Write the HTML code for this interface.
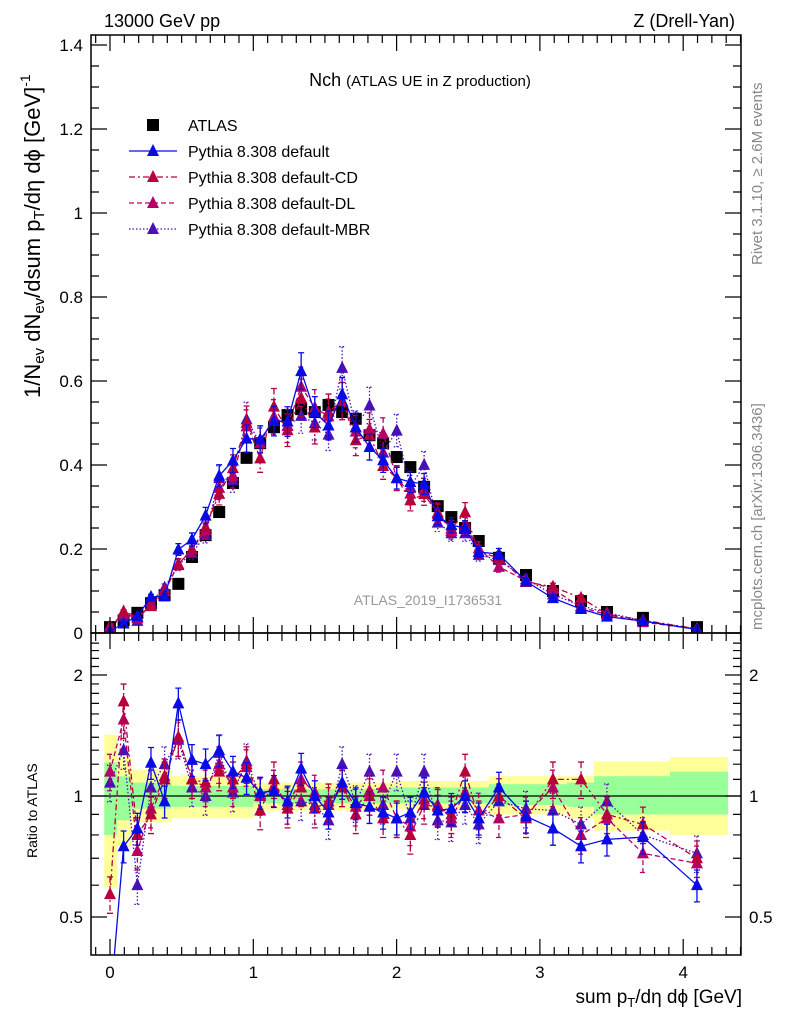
<!DOCTYPE html>
<html><head><meta charset="utf-8"><style>
html,body{margin:0;padding:0;background:#fff;}
svg{display:block;font-family:"Liberation Sans",sans-serif;}
</style></head><body>
<svg id="chart" width="786" height="1024" viewBox="0 0 786 1024" xmlns="http://www.w3.org/2000/svg">
<g id="bands"></g>
<g id="marks"></g>
<g id="axes"></g>
<text x="104" y="27" font-size="18">13000 GeV pp</text>
<text x="735" y="27" font-size="18" text-anchor="end">Z (Drell-Yan)</text>
<text x="420" y="86" font-size="18" text-anchor="middle">Nch <tspan font-size="15">(ATLAS UE in Z production)</tspan></text>
<text x="428" y="605" font-size="14" fill="#999" text-anchor="middle">ATLAS_2019_I1736531</text>
<text transform="translate(762,265) rotate(-90)" font-size="15" fill="#888">Rivet 3.1.10, ≥ 2.6M events</text>
<text transform="translate(762,630) rotate(-90)" font-size="15" fill="#888">mcplots.cern.ch [arXiv:1306.3436]</text>
<text transform="translate(40,398) rotate(-90)" font-size="22" text-anchor="start">1/N<tspan font-size="15" dy="4">ev</tspan><tspan dy="-4"> dN</tspan><tspan font-size="15" dy="4">ev</tspan><tspan dy="-4">/dsum p</tspan><tspan font-size="15" dy="4">T</tspan><tspan dy="-4">/dη dϕ  [GeV]</tspan><tspan font-size="14" dy="-10">-1</tspan></text>
<text transform="translate(37,858) rotate(-90)" font-size="14">Ratio to ATLAS</text>
<text x="742" y="1003" font-size="19" text-anchor="end">sum p<tspan font-size="13" dy="4">T</tspan><tspan dy="-4">/dη dϕ [GeV]</tspan></text>
<g id="legend"></g>
</svg>
<script>
const xs=[0,0.095,0.191,0.286,0.381,0.477,0.572,0.667,0.762,0.858,0.953,1.048,1.144,1.239,1.334,1.429,1.525,1.620,1.715,1.811,1.906,2.001,2.096,2.192,2.287,2.382,2.478,2.573,2.714,2.903,3.091,3.287,3.468,3.719,4.096];
const atlas=[0.014,0.03,0.048,0.071,0.09,0.117,0.181,0.233,0.288,0.357,0.417,0.452,0.49,0.519,0.533,0.526,0.543,0.526,0.51,0.471,0.452,0.419,0.395,0.348,0.302,0.276,0.25,0.219,0.179,0.138,0.1,0.076,0.05,0.036,0.014];
const rDefault=[0.3,0.75,0.83,1.21,0.97,1.70,1.23,1.2,1.3,1.15,1.11,1.02,1.03,0.97,1.17,1.0,0.91,1.08,0.96,0.94,0.91,0.88,0.91,1.02,0.92,0.93,1.0,0.88,1.05,0.89,0.83,0.75,0.78,0.79,0.6];
const rCD=[0.57,1.72,0.8,0.9,1.1,1.4,1.1,1.08,1.15,1.1,1.2,0.92,1.1,0.93,1.05,0.93,0.97,1.05,0.9,1.0,0.88,0.88,0.8,0.95,0.94,0.9,1.15,0.88,1.0,0.88,1.1,1.1,0.9,0.85,0.7];
const rDL=[1.15,1.55,0.73,0.93,1.12,1.4,1.1,1.05,1.2,1.05,1.18,1.0,1.05,0.95,1.1,1.02,0.95,1.05,0.94,1.03,1.05,0.88,0.84,0.98,0.95,0.88,1.02,0.92,0.88,0.9,1.05,0.8,0.88,0.72,0.68];
const rMBR=[1.08,1.3,0.6,1.05,1.2,1.38,1.05,1.0,1.28,1.02,1.22,1.0,1.05,0.95,0.97,0.95,0.87,1.2,0.96,1.15,0.95,1.15,0.88,1.15,0.87,0.86,0.95,0.85,0.97,0.93,0.92,0.85,0.97,0.8,0.72];
const yLo=[0.59,0.75,0.86,0.86,0.86,0.88,0.88,0.88,0.88,0.88,0.88,0.92,0.92,0.92,0.92,0.92,0.92,0.92,0.92,0.92,0.92,0.93,0.93,0.93,0.93,0.93,0.93,0.93,0.9,0.9,0.9,0.88,0.82,0.82,0.8];
const yHi=[1.42,1.25,1.16,1.16,1.16,1.12,1.12,1.12,1.12,1.12,1.12,1.08,1.08,1.08,1.08,1.08,1.08,1.08,1.08,1.08,1.08,1.09,1.09,1.09,1.09,1.09,1.09,1.09,1.12,1.12,1.12,1.12,1.22,1.22,1.25];
const gLo=[0.8,0.87,0.93,0.93,0.93,0.94,0.94,0.94,0.94,0.94,0.94,0.96,0.96,0.96,0.96,0.96,0.96,0.96,0.96,0.96,0.96,0.96,0.96,0.96,0.96,0.96,0.96,0.96,0.95,0.95,0.95,0.94,0.9,0.9,0.9];
const gHi=[1.21,1.12,1.08,1.08,1.08,1.06,1.06,1.06,1.06,1.06,1.06,1.04,1.04,1.04,1.04,1.04,1.04,1.04,1.04,1.04,1.04,1.05,1.05,1.05,1.05,1.05,1.05,1.05,1.07,1.07,1.07,1.08,1.12,1.12,1.15];
const xTicks=["0","1","2","3","4"];
const yTicks=["0","0.2","0.4","0.6","0.8","1","1.2","1.4"];
const rTicks=["0.5","1","2"];

const NS="http://www.w3.org/2000/svg";
const L=91,R=741,T=35,MB=633,RB=955;
const X=v=>110+143.3*v;
const Y=v=>633-420*v;
const RY=r=>796-402*Math.log10(r);
function mk(tag,attrs,parent){const e=document.createElementNS(NS,tag);for(const k in attrs)e.setAttribute(k,attrs[k]);parent.appendChild(e);return e;}
const bands=document.getElementById('bands'),marks=document.getElementById('marks'),axes=document.getElementById('axes'),legend=document.getElementById('legend');
const defs=mk('defs',{},document.getElementById('chart'));
const c1=mk('clipPath',{id:'cm'},defs);mk('rect',{x:L,y:T,width:R-L,height:MB-T},c1);
const c2=mk('clipPath',{id:'cr'},defs);mk('rect',{x:L,y:MB,width:R-L,height:RB-MB},c2);
const edges=[-0.04];for(let i=0;i<xs.length-1;i++)edges.push((xs[i]+xs[i+1])/2);edges.push(4.31);
for(let i=0;i<xs.length;i++){
  const x0=X(edges[i]),x1=X(edges[i+1]);
  const yb=mk('rect',{x:x0,y:RY(yHi[i]),width:x1-x0+0.5,height:RY(yLo[i])-RY(yHi[i]),fill:'#ffff99'},bands);
  
  
  const gb=mk('rect',{x:x0,y:RY(gHi[i]),width:x1-x0+0.5,height:RY(gLo[i])-RY(gHi[i]),fill:'#99ff99'},bands);
  
  
}
const unity=mk('line',{x1:L,x2:R,y1:RY(1),y2:RY(1),stroke:'#000','stroke-width':1.3},bands);



const series=[
 {name:'default',r:rDefault,col:'#0a0ae6',dash:'',err:0.07},
 {name:'cd',r:rCD,col:'#b8003c',dash:'6,3,2,3',err:0.08},
 {name:'dl',r:rDL,col:'#b5006a',dash:'5,3',err:0.08},
 {name:'mbr',r:rMBR,col:'#4a10b8',dash:'1.5,2',err:0.08}
];
function tri(cx,cy,col,parent){return mk('path',{d:`M${cx-6},${cy+5}L${cx+6},${cy+5}L${cx},${cy-7}Z`,fill:col},parent);}
series.slice().reverse().forEach(s=>{
  const gm=mk('g',{'clip-path':'url(#cm)'},marks);
  
  
  const gr=mk('g',{'clip-path':'url(#cr)'},marks);
  
  
  let pm='',pr='';
  xs.forEach((x,i)=>{const v=atlas[i]*s.r[i];pm+=(i?'L':'M')+X(x)+','+Y(v);pr+=(i?'L':'M')+X(x)+','+RY(s.r[i]);});
  mk('path',{d:pm,fill:'none',stroke:s.col,'stroke-width':1.3,'stroke-dasharray':s.dash},gm);
  mk('path',{d:pr,fill:'none',stroke:s.col,'stroke-width':1.3,'stroke-dasharray':s.dash},gr);
  xs.forEach((x,i)=>{
    const v=atlas[i]*s.r[i],cx=X(x);
    const e=v*s.err;
    mk('path',{d:`M${cx},${Y(v+e)}L${cx},${Y(v-e)}M${cx-3},${Y(v+e)}L${cx+3},${Y(v+e)}M${cx-3},${Y(v-e)}L${cx+3},${Y(v-e)}`,stroke:s.col,'stroke-width':1.3,'stroke-dasharray':s.dash},gm);
    const t=tri(cx,Y(v),s.col,gm);
    
    
    const rv=s.r[i],re=rv*s.err*1.3;
    mk('path',{d:`M${cx},${RY(rv+re)}L${cx},${RY(Math.max(rv-re,0.05))}M${cx-3},${RY(rv+re)}L${cx+3},${RY(rv+re)}M${cx-3},${RY(Math.max(rv-re,0.05))}L${cx+3},${RY(Math.max(rv-re,0.05))}`,stroke:s.col,'stroke-width':1.3,'stroke-dasharray':s.dash},gr);
    const t2=tri(cx,RY(rv),s.col,gr);
    
    
  });
});
const gd=mk('g',{'clip-path':'url(#cm)'},marks);
marks.insertBefore(gd,marks.firstChild);


xs.forEach((x,i)=>{
  const r=mk('rect',{x:X(x)-6,y:Y(atlas[i])-6,width:12,height:12,fill:'#000'},gd);
  
  
});
const f1=mk('rect',{x:L,y:T,width:R-L,height:MB-T,fill:'none',stroke:'#000','stroke-width':1.5},axes);


const f2=mk('rect',{x:L,y:MB,width:R-L,height:RB-MB,fill:'none',stroke:'#000','stroke-width':1.5},axes);


let d='';
for(let k=-1;k<=45;k++){const v=k/10;const px=X(v);if(px<L||px>R)continue;const big=k%10===0;const len=big?16:8;
  d+=`M${px},${MB}L${px},${MB-len}M${px},${T}L${px},${T+len}M${px},${RB}L${px},${RB-len}M${px},${MB}L${px},${MB+len}`;}
for(let k=0;k<=28;k++){const v=k*0.05;const py=Y(v);const big=k%4===0;const len=big?16:8;d+=`M${L},${py}L${L+len},${py}M${R},${py}L${R-len},${py}`;}
const rt=[0.4,0.5,0.6,0.7,0.8,0.9,1,1.1,1.2,1.3,1.4,1.5,1.6,1.7,1.8,1.9,2,2.1,2.2,2.3,2.4];
rt.forEach(r=>{const py=RY(r);if(py<MB||py>RB)return;const big=(r===0.5||r===1||r===2);const len=big?16:8;d+=`M${L},${py}L${L+len},${py}M${R},${py}L${R-len},${py}`;});
mk('path',{d:d,stroke:'#000','stroke-width':1.2,fill:'none'},axes);
xTicks.forEach(t=>{const e=mk('text',{x:X(parseFloat(t)),y:978,'font-size':17,'text-anchor':'middle'},axes);e.textContent=t;
  
  });
yTicks.forEach(t=>{const e=mk('text',{x:83,y:Y(parseFloat(t))+6,'font-size':17,'text-anchor':'end'},axes);e.textContent=t;
  
  });
rTicks.forEach(t=>{const py=RY(parseFloat(t))+6;
  const e=mk('text',{x:83,y:py,'font-size':17,'text-anchor':'end'},axes);e.textContent=t;
  
  
  const e2=mk('text',{x:749,y:py,'font-size':17,'text-anchor':'start'},axes);e2.textContent=t;
  
  });
const leg=[['ATLAS',null,'#000',''],['Pythia 8.308 default','tri','#0a0ae6',''],['Pythia 8.308 default-CD','tri','#b8003c','6,3,2,3'],['Pythia 8.308 default-DL','tri','#b5006a','5,3'],['Pythia 8.308 default-MBR','tri','#4a10b8','1.5,2']];
leg.forEach((l,i)=>{const cy=125+i*26;const g=mk('g',{},legend);
  
  
  if(!l[1]){mk('rect',{x:147,y:cy-6,width:12,height:12,fill:'#000'},g);}
  else{mk('line',{x1:129,x2:177,y1:cy,y2:cy,stroke:l[2],'stroke-width':1.3,'stroke-dasharray':l[3]},g);tri(153,cy,l[2],g);}
  const t=mk('text',{x:188,y:cy+6,'font-size':16},g);t.textContent=l[0];});
</script>
</body></html>
